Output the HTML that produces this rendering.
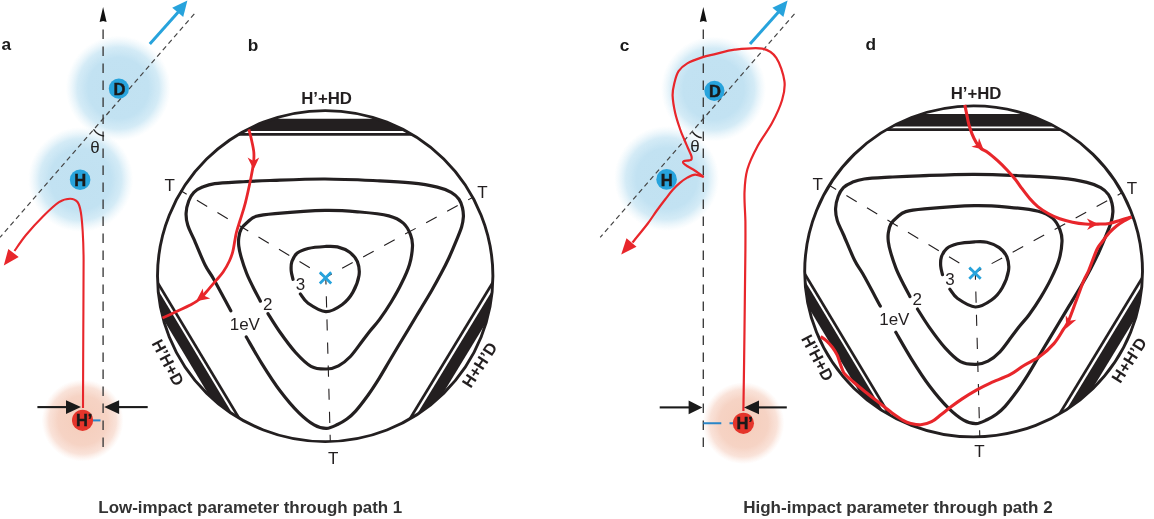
<!DOCTYPE html>
<html><head><meta charset="utf-8"><style>
html,body{margin:0;padding:0;background:#fff;width:1154px;height:519px;overflow:hidden;}
svg{display:block;will-change:transform;}
</style></head><body>
<svg width="1154" height="519" viewBox="0 0 1154 519">
<defs>
<radialGradient id="gb"><stop offset="0" stop-color="#c1e1f1"/><stop offset="0.58" stop-color="#c2e2f2"/><stop offset="0.78" stop-color="#c9e6f4" stop-opacity="0.8"/><stop offset="1" stop-color="#dceff8" stop-opacity="0"/></radialGradient>
<radialGradient id="gr"><stop offset="0" stop-color="#f5cdbb"/><stop offset="0.6" stop-color="#f6d3c4"/><stop offset="0.82" stop-color="#f8dbcf" stop-opacity="0.8"/><stop offset="1" stop-color="#fbe6dd" stop-opacity="0"/></radialGradient>
</defs>
<circle cx="118.3" cy="88.2" r="52.5" fill="url(#gb)"/>
<circle cx="80.7" cy="179.5" r="52.5" fill="url(#gb)"/>
<circle cx="82.6" cy="420.5" r="41" fill="url(#gr)"/>
<path d="M103.1 29.4 L103.1 447.5" stroke="#3a3a3a" stroke-width="1.35" stroke-dasharray="9.5 7.5" fill="none"/>
<path d="M103.1 7.0 L106.6 21.9 L103.1 21.1 L99.6 21.9 Z" fill="#111"/>
<path d="M194.3 13.9 L0.0 237.3" stroke="#444" stroke-width="1.2" stroke-dasharray="5 3.6" fill="none"/>
<path d="M149.8 43.9 L178.3 12" stroke="#27a3dc" stroke-width="3" fill="none"/>
<path d="M187.4 0.6 L183.2 16.9 L177.7 12.3 L172.2 7.7 Z" fill="#27a3dc"/>
<path d="M93.5 129.3 Q98 135.5 104.1 136" stroke="#222" stroke-width="1.4" fill="none"/>
<text x="95" y="153.4" font-size="17" text-anchor="middle" fill="#222" font-family="Liberation Sans, sans-serif">θ</text>
<path d="M83.0 408.0 C83.0 395.0 83.2 354.7 83.3 330.0 C83.4 305.3 83.7 276.7 83.6 260.0 C83.5 243.3 83.1 238.0 82.6 230.0 C82.1 222.0 81.6 216.7 80.8 212.0 C80.0 207.3 79.3 204.2 77.5 202.0 C75.7 199.8 73.3 198.7 70.2 198.7 C67.1 198.7 63.5 199.2 59.0 202.1 C54.5 205.0 48.9 210.5 43.4 216.0 C37.9 221.5 30.8 229.2 26.0 235.0 C21.2 240.8 16.4 248.3 14.5 251.0" fill="none" stroke="#e8262b" stroke-width="2.1"/>
<path d="M3.8 265.5 L8.3 249.0 L13.5 253.0 L18.7 257.0 Z" fill="#e8262b"/>
<circle cx="118.9" cy="88.7" r="10.1" fill="#27a3dc"/>
<text x="119.5" y="95.3" font-size="16.5" font-weight="bold" text-anchor="middle" fill="#1a1a1a" stroke="#1a1a1a" stroke-width="0.45" font-family="Liberation Sans, sans-serif">D</text>
<circle cx="80.1" cy="179.7" r="10.3" fill="#27a3dc"/>
<text x="80.3" y="186" font-size="16.5" font-weight="bold" text-anchor="middle" fill="#1a1a1a" stroke="#1a1a1a" stroke-width="0.45" font-family="Liberation Sans, sans-serif">H</text>
<circle cx="82.6" cy="420.3" r="10.6" fill="#e5352b"/>
<text x="84.2" y="425.9" font-size="16.5" font-weight="bold" text-anchor="middle" fill="#1a1a1a" stroke="#1a1a1a" stroke-width="0.45" font-family="Liberation Sans, sans-serif">H’</text>
<path d="M93 420.4 L100.5 420.4" stroke="#2a86c8" stroke-width="2"/>
<path d="M37.4 407.1 L68 407.1" stroke="#1a1a1a" stroke-width="2.1"/>
<path d="M81.0 407.1 L66.0 414.0 L66.0 407.1 L66.0 400.2 Z" fill="#1a1a1a"/>
<path d="M147.7 407.1 L117 407.1" stroke="#1a1a1a" stroke-width="2.1"/>
<path d="M104.2 407.1 L119.1 400.2 L119.1 407.1 L119.1 414.0 Z" fill="#1a1a1a"/>
<text x="1.5" y="50.3" font-size="17.3" font-weight="bold" fill="#1a1a1a" font-family="Liberation Sans, sans-serif">a</text>
<text x="247.8" y="51.3" font-size="17.3" font-weight="bold" fill="#1a1a1a" font-family="Liberation Sans, sans-serif">b</text>
<clipPath id="ccb"><ellipse cx="325.2" cy="276.1" rx="167.7" ry="165.5"/></clipPath>
<g clip-path="url(#ccb)">
<path d="M-75.0 131.1 L725.0 131.1 L725.0 118.8 L-75.0 118.8Z" fill="#231f20"/>
<path d="M-75.0 134.4 L725.0 134.4" stroke="#231f20" stroke-width="2.7" fill="none"/>
<path d="M402.2 696.3 L-9.8 10.5 L-18.9 16.0 L393.1 701.7Z" fill="#231f20"/>
<path d="M405.1 694.5 L-6.9 8.8" stroke="#231f20" stroke-width="2.7" fill="none"/>
<path d="M661.3 12.4 L245.7 695.9 L255.4 701.8 L671.1 18.3Z" fill="#231f20"/>
<path d="M658.2 10.5 L242.6 694.0" stroke="#231f20" stroke-width="2.7" fill="none"/>
</g>
<ellipse cx="325.2" cy="276.1" rx="167.7" ry="165.5" fill="none" stroke="#231f20" stroke-width="2.9"/>
<path d="M325.8 277.2 L180.5 190.5" stroke="#231f20" stroke-width="1.1" stroke-dasharray="12 11.9" stroke-dashoffset="5.3" fill="none"/>
<path d="M325.8 277.2 L472.5 197.5" stroke="#231f20" stroke-width="1.1" stroke-dasharray="12 11.9" stroke-dashoffset="5.3" fill="none"/>
<path d="M325.8 277.2 L330.3 442.0" stroke="#231f20" stroke-width="1.1" stroke-dasharray="11.2 11.9" stroke-dashoffset="4.0" fill="none"/>
<path d="M230.8 310.8 C227.9 305.5 217.9 286.6 213.6 279.0 C209.3 271.4 208.4 271.6 205.1 265.0 C201.8 258.4 196.8 245.8 193.9 239.2 C191.0 232.6 189.1 229.7 187.8 225.3 C186.5 221.0 185.9 217.2 186.1 213.1 C186.2 209.0 187.4 204.5 188.7 201.0 C190.0 197.5 191.6 194.6 193.9 192.3 C196.2 190.0 199.0 188.5 202.5 187.1 C206.0 185.7 208.4 184.6 214.7 183.7 C220.9 182.8 230.8 182.4 240.0 181.9 C249.2 181.4 255.8 181.0 270.0 180.5 C284.2 180.0 306.7 178.9 325.0 179.0 C343.3 179.1 365.7 180.2 380.0 180.8 C394.3 181.5 401.4 181.9 411.0 182.9 C420.6 183.9 430.6 185.5 437.3 187.1 C444.0 188.7 447.6 190.3 451.2 192.3 C454.8 194.3 457.1 196.7 459.0 199.3 C460.9 201.9 461.8 205.1 462.5 208.0 C463.2 210.9 463.5 213.4 463.4 216.6 C463.2 219.8 462.9 222.7 461.6 227.0 C460.3 231.3 457.6 237.5 455.5 242.6 C453.4 247.7 451.4 252.6 449.0 257.7 C446.6 262.8 444.2 267.6 441.3 273.1 C438.4 278.6 435.2 284.4 431.7 290.5 C428.2 296.6 424.0 303.4 420.1 309.8 C416.2 316.2 412.3 322.9 408.6 329.0 C404.9 335.1 401.3 341.0 398.0 346.5 C394.7 352.0 392.1 356.4 388.8 362.0 C385.5 367.6 381.7 374.3 378.2 379.9 C374.7 385.5 371.6 390.3 367.8 395.5 C364.0 400.7 359.1 407.2 355.6 411.1 C352.1 415.0 349.9 416.8 346.9 419.0 C343.9 421.2 340.9 422.9 337.5 424.5 C334.1 426.1 330.4 428.3 326.5 428.4 C322.6 428.5 318.7 427.5 314.1 424.9 C309.5 422.3 304.4 418.2 298.7 412.6 C293.0 407.0 286.4 399.2 280.2 391.0 C274.0 382.8 267.3 372.3 261.7 363.3 C256.1 354.3 248.9 341.4 246.3 337.0" fill="none" stroke="#231f20" stroke-width="3.2" stroke-linecap="round"/>
<path d="M260.4 301.2 C259.2 298.8 255.3 291.7 253.0 287.0 C250.7 282.3 248.4 277.9 246.5 273.0 C244.6 268.1 242.6 262.1 241.3 257.6 C240.0 253.2 239.2 249.6 238.8 246.3 C238.4 243.0 238.4 240.5 238.8 237.6 C239.2 234.7 239.8 231.4 241.3 228.8 C242.8 226.2 245.1 224.0 247.6 221.9 C250.1 219.8 251.7 217.7 256.3 216.3 C260.9 214.9 263.6 214.6 275.0 213.6 C286.4 212.6 310.8 210.7 325.0 210.4 C339.2 210.1 349.4 211.1 360.0 212.0 C370.6 212.9 381.6 214.1 388.8 215.9 C396.0 217.8 399.7 220.0 403.3 223.1 C406.9 226.2 409.0 230.8 410.5 234.6 C412.0 238.4 412.7 241.2 412.5 246.2 C412.3 251.2 411.3 258.4 409.5 264.5 C407.7 270.6 404.9 276.6 401.8 282.8 C398.8 289.1 394.9 295.9 391.2 302.0 C387.5 308.1 383.1 314.6 379.6 319.4 C376.1 324.2 372.9 327.3 370.0 331.0 C367.1 334.7 365.3 337.2 362.0 341.5 C358.7 345.8 354.3 352.4 350.4 356.5 C346.5 360.6 342.5 363.7 338.5 365.8 C334.5 367.9 331.1 368.9 326.5 369.0 C321.9 369.1 316.1 369.1 311.0 366.3 C305.9 363.6 300.9 358.3 295.6 352.5 C290.4 346.7 284.1 338.0 279.5 331.5 C274.9 325.0 269.9 316.7 268.0 313.7" fill="none" stroke="#231f20" stroke-width="3.2" stroke-linecap="round"/>
<path d="M293.0 279.3 C292.7 277.9 291.4 273.8 291.2 270.8 C291.0 267.9 290.9 264.6 291.9 261.6 C292.9 258.7 294.6 255.3 297.3 253.1 C300.0 250.9 303.5 249.6 308.1 248.5 C312.7 247.4 320.2 246.8 325.1 246.5 C330.0 246.2 333.3 245.9 337.4 246.9 C341.5 247.9 346.4 249.9 349.7 252.3 C353.0 254.8 355.8 257.7 357.4 261.6 C358.9 265.5 359.8 270.4 359.0 275.5 C358.2 280.6 355.6 287.5 352.8 292.4 C350.0 297.3 346.5 301.5 342.0 304.7 C337.5 307.9 331.4 311.9 325.8 311.7 C320.2 311.4 312.3 306.1 308.1 303.2 C303.9 300.2 301.7 295.5 300.4 294.0" fill="none" stroke="#231f20" stroke-width="3.2" stroke-linecap="round"/>
<text x="169.8" y="190.6" font-size="17" text-anchor="middle" fill="#231f20" font-family="Liberation Sans, sans-serif">T</text>
<text x="482.5" y="197.5" font-size="17" text-anchor="middle" fill="#231f20" font-family="Liberation Sans, sans-serif">T</text>
<text x="333.2" y="463.6" font-size="17" text-anchor="middle" fill="#231f20" font-family="Liberation Sans, sans-serif">T</text>
<text x="244.8" y="329.6" font-size="17" text-anchor="middle" fill="#231f20" font-family="Liberation Sans, sans-serif">1eV</text>
<text x="267.8" y="309.5" font-size="17" text-anchor="middle" fill="#231f20" font-family="Liberation Sans, sans-serif">2</text>
<text x="300.5" y="290.2" font-size="17" text-anchor="middle" fill="#231f20" font-family="Liberation Sans, sans-serif">3</text>
<text x="326.6" y="103.9" font-size="16.8" font-weight="bold" text-anchor="middle" fill="#231f20" font-family="Liberation Sans, sans-serif">H’+HD</text>
<text transform="translate(162.9,365.2) rotate(62)" font-size="16.5" font-weight="bold" text-anchor="middle" fill="#231f20" font-family="Liberation Sans, sans-serif">H’H+D</text>
<text transform="translate(484.3,368) rotate(-57)" font-size="16.5" font-weight="bold" text-anchor="middle" fill="#231f20" font-family="Liberation Sans, sans-serif">H+H’D</text>
<path d="M319.8 272.2 L331.2 283.4 M331.2 272.2 L319.8 283.4" stroke="#27a3dc" stroke-width="2.8" fill="none"/>
<path d="M248.9 129.4 C249.3 131.2 250.8 136.4 251.6 140.2 C252.4 144.0 253.5 148.4 253.8 152.0 C254.1 155.6 254.1 157.7 253.6 162.0 C253.1 166.3 252.3 171.2 250.9 178.0 C249.5 184.8 247.1 196.1 245.3 203.1 C243.5 210.1 241.7 215.2 240.2 220.0 C238.7 224.8 237.4 228.5 236.5 232.0 C235.6 235.5 235.4 237.5 234.8 240.8 C234.2 244.1 233.7 248.2 232.8 251.6 C231.9 255.0 231.0 257.6 229.4 261.0 C227.8 264.4 225.4 268.7 223.3 271.8 C221.2 274.9 219.1 277.0 216.6 279.9 C214.1 282.8 211.3 286.1 208.5 289.3 C205.7 292.5 203.1 296.1 200.0 298.8 C196.9 301.5 193.3 303.3 189.7 305.3 C186.0 307.3 182.6 308.7 178.1 310.8 C173.6 312.9 165.1 316.8 162.5 318.0" fill="none" stroke="#e8262b" stroke-width="2.8"/>
<path d="M253.6 169.5 L247.6 157.6 L253.5 161.0 L259.2 157.4 Z" fill="#e8262b"/>
<path d="M196.0 301.2 L202.8 288.5 L203.7 295.6 L210.2 298.5 Z" fill="#e8262b"/>
<circle cx="713.5" cy="89" r="52.5" fill="url(#gb)"/>
<circle cx="666.7" cy="178.5" r="52.5" fill="url(#gb)"/>
<circle cx="743.4" cy="423.2" r="41" fill="url(#gr)"/>
<path d="M703.3 29.4 L703.3 447.5" stroke="#3a3a3a" stroke-width="1.35" stroke-dasharray="9.5 7.5" fill="none"/>
<path d="M703.3 7.0 L706.8 21.9 L703.3 21.1 L699.8 21.9 Z" fill="#111"/>
<path d="M794.5 13.9 L600.2 237.3" stroke="#444" stroke-width="1.2" stroke-dasharray="5 3.6" fill="none"/>
<path d="M750.0 43.9 L778.5 12" stroke="#27a3dc" stroke-width="3" fill="none"/>
<path d="M787.6 0.6 L783.4 16.9 L777.9 12.3 L772.4 7.7 Z" fill="#27a3dc"/>
<path d="M692.5 132 Q696.5 137.2 701.7 137.7" stroke="#222" stroke-width="1.4" fill="none"/>
<text x="695" y="152.3" font-size="17" text-anchor="middle" fill="#222" font-family="Liberation Sans, sans-serif">θ</text>
<path d="M743.4 411.0 C743.6 397.5 744.2 356.8 744.5 330.0 C744.8 303.2 745.2 268.1 745.4 250.0 C745.5 231.9 745.5 230.9 745.4 221.3 C745.2 211.7 744.2 201.1 744.5 192.4 C744.8 183.7 745.2 177.0 747.4 169.3 C749.6 161.6 753.4 153.9 757.5 146.2 C761.6 138.5 767.9 130.8 772.0 123.1 C776.1 115.4 780.0 107.0 782.1 100.0 C784.2 93.0 785.4 88.0 784.4 81.0 C783.4 74.0 780.0 63.2 776.3 57.8 C772.6 52.4 769.3 50.0 762.4 48.6 C755.5 47.2 742.4 48.8 734.7 49.7 C727.0 50.6 721.5 52.6 716.0 53.9 C710.5 55.2 706.8 55.8 702.0 57.4 C697.2 59.0 691.2 61.1 687.3 63.4 C683.4 65.7 680.8 67.9 678.6 71.2 C676.4 74.5 675.3 79.4 674.3 83.4 C673.3 87.5 672.5 90.6 672.6 95.5 C672.8 100.4 673.9 107.2 675.2 112.9 C676.5 118.7 678.9 125.5 680.4 130.0 C681.9 134.5 683.3 137.1 684.5 140.0 C685.7 142.9 686.7 145.1 687.8 147.7 C688.9 150.3 690.6 153.5 691.2 155.4 C691.8 157.3 691.8 158.5 691.5 159.3 C691.2 160.1 690.5 160.1 689.3 160.4 C688.0 160.7 685.0 160.5 684.0 160.9 C683.0 161.3 682.8 162.2 683.3 163.0 C683.8 163.8 685.0 164.7 687.0 166.0 C689.0 167.3 692.3 169.0 695.1 170.8 C697.9 172.6 702.3 176.0 703.7 177.0" fill="none" stroke="#e8262b" stroke-width="2.2" stroke-linejoin="round"/>
<path d="M703.7 177.0 C702.3 176.6 697.8 174.6 695.1 174.7 C692.4 174.8 689.9 176.2 687.3 177.6 C684.7 179.0 682.0 181.1 679.6 183.1 C677.2 185.1 675.1 187.2 672.8 189.8 C670.4 192.5 668.2 195.5 665.5 199.0 C662.8 202.5 659.5 206.9 656.5 211.0 C653.5 215.1 651.8 218.2 647.8 223.5 C643.8 228.8 635.0 239.3 632.5 242.5" fill="none" stroke="#e8262b" stroke-width="2.2"/>
<path d="M621.2 254.5 L626.5 238.2 L631.5 242.5 L636.5 246.8 Z" fill="#e8262b"/>
<circle cx="714.4" cy="90.8" r="10.1" fill="#27a3dc"/>
<text x="715" y="97.4" font-size="16.5" font-weight="bold" text-anchor="middle" fill="#1a1a1a" stroke="#1a1a1a" stroke-width="0.45" font-family="Liberation Sans, sans-serif">D</text>
<circle cx="666.6" cy="179.4" r="10.3" fill="#27a3dc"/>
<text x="666.8" y="185.7" font-size="16.5" font-weight="bold" text-anchor="middle" fill="#1a1a1a" stroke="#1a1a1a" stroke-width="0.45" font-family="Liberation Sans, sans-serif">H</text>
<circle cx="743.4" cy="423.3" r="10.6" fill="#e5352b"/>
<text x="744.7" y="429" font-size="16.5" font-weight="bold" text-anchor="middle" fill="#1a1a1a" stroke="#1a1a1a" stroke-width="0.45" font-family="Liberation Sans, sans-serif">H’</text>
<path d="M703.3 423.3 L721.3 423.3 M729.5 423.3 L733 423.3" stroke="#2a86c8" stroke-width="2"/>
<path d="M659.7 407.4 L690 407.4" stroke="#1a1a1a" stroke-width="2.1"/>
<path d="M702.4 407.4 L688.6 414.3 L688.6 407.4 L688.6 400.5 Z" fill="#1a1a1a"/>
<path d="M786.8 407.4 L757 407.4" stroke="#1a1a1a" stroke-width="2.1"/>
<path d="M744.0 407.4 L759.0 400.5 L759.0 407.4 L759.0 414.3 Z" fill="#1a1a1a"/>
<text x="619.8" y="51" font-size="17.3" font-weight="bold" fill="#1a1a1a" font-family="Liberation Sans, sans-serif">c</text>
<text x="865.6" y="50.3" font-size="17.3" font-weight="bold" fill="#1a1a1a" font-family="Liberation Sans, sans-serif">d</text>
<g transform="translate(649.5,-4.7)">
<clipPath id="ccd"><ellipse cx="324.1" cy="276.1" rx="168.9" ry="165.5"/></clipPath>
<g clip-path="url(#ccd)">
<path d="M-75.0 131.1 L725.0 131.1 L725.0 118.8 L-75.0 118.8Z" fill="#231f20"/>
<path d="M-75.0 134.4 L725.0 134.4" stroke="#231f20" stroke-width="2.7" fill="none"/>
<path d="M402.2 696.3 L-9.8 10.5 L-18.9 16.0 L393.1 701.7Z" fill="#231f20"/>
<path d="M405.1 694.5 L-6.9 8.8" stroke="#231f20" stroke-width="2.7" fill="none"/>
<path d="M661.3 12.4 L245.7 695.9 L255.4 701.8 L671.1 18.3Z" fill="#231f20"/>
<path d="M658.2 10.5 L242.6 694.0" stroke="#231f20" stroke-width="2.7" fill="none"/>
</g>
<ellipse cx="324.1" cy="276.1" rx="168.9" ry="165.5" fill="none" stroke="#231f20" stroke-width="2.9"/>
<path d="M325.8 277.2 L180.5 190.5" stroke="#231f20" stroke-width="1.1" stroke-dasharray="12 11.9" stroke-dashoffset="5.3" fill="none"/>
<path d="M325.8 277.2 L472.5 197.5" stroke="#231f20" stroke-width="1.1" stroke-dasharray="12 11.9" stroke-dashoffset="5.3" fill="none"/>
<path d="M325.8 277.2 L330.3 442.0" stroke="#231f20" stroke-width="1.1" stroke-dasharray="11.2 11.9" stroke-dashoffset="4.0" fill="none"/>
<path d="M230.8 310.8 C227.9 305.5 217.9 286.6 213.6 279.0 C209.3 271.4 208.4 271.6 205.1 265.0 C201.8 258.4 196.8 245.8 193.9 239.2 C191.0 232.6 189.1 229.7 187.8 225.3 C186.5 221.0 185.9 217.2 186.1 213.1 C186.2 209.0 187.4 204.5 188.7 201.0 C190.0 197.5 191.6 194.6 193.9 192.3 C196.2 190.0 199.0 188.5 202.5 187.1 C206.0 185.7 208.4 184.6 214.7 183.7 C220.9 182.8 230.8 182.4 240.0 181.9 C249.2 181.4 255.8 181.0 270.0 180.5 C284.2 180.0 306.7 178.9 325.0 179.0 C343.3 179.1 365.7 180.2 380.0 180.8 C394.3 181.5 401.4 181.9 411.0 182.9 C420.6 183.9 430.6 185.5 437.3 187.1 C444.0 188.7 447.6 190.3 451.2 192.3 C454.8 194.3 457.1 196.7 459.0 199.3 C460.9 201.9 461.8 205.1 462.5 208.0 C463.2 210.9 463.5 213.4 463.4 216.6 C463.2 219.8 462.9 222.7 461.6 227.0 C460.3 231.3 457.6 237.5 455.5 242.6 C453.4 247.7 451.4 252.6 449.0 257.7 C446.6 262.8 444.2 267.6 441.3 273.1 C438.4 278.6 435.2 284.4 431.7 290.5 C428.2 296.6 424.0 303.4 420.1 309.8 C416.2 316.2 412.3 322.9 408.6 329.0 C404.9 335.1 401.3 341.0 398.0 346.5 C394.7 352.0 392.1 356.4 388.8 362.0 C385.5 367.6 381.7 374.3 378.2 379.9 C374.7 385.5 371.6 390.3 367.8 395.5 C364.0 400.7 359.1 407.2 355.6 411.1 C352.1 415.0 349.9 416.8 346.9 419.0 C343.9 421.2 340.9 422.9 337.5 424.5 C334.1 426.1 330.4 428.3 326.5 428.4 C322.6 428.5 318.7 427.5 314.1 424.9 C309.5 422.3 304.4 418.2 298.7 412.6 C293.0 407.0 286.4 399.2 280.2 391.0 C274.0 382.8 267.3 372.3 261.7 363.3 C256.1 354.3 248.9 341.4 246.3 337.0" fill="none" stroke="#231f20" stroke-width="3.2" stroke-linecap="round"/>
<path d="M260.4 301.2 C259.2 298.8 255.3 291.7 253.0 287.0 C250.7 282.3 248.4 277.9 246.5 273.0 C244.6 268.1 242.6 262.1 241.3 257.6 C240.0 253.2 239.2 249.6 238.8 246.3 C238.4 243.0 238.4 240.5 238.8 237.6 C239.2 234.7 239.8 231.4 241.3 228.8 C242.8 226.2 245.1 224.0 247.6 221.9 C250.1 219.8 251.7 217.7 256.3 216.3 C260.9 214.9 263.6 214.6 275.0 213.6 C286.4 212.6 310.8 210.7 325.0 210.4 C339.2 210.1 349.4 211.1 360.0 212.0 C370.6 212.9 381.6 214.1 388.8 215.9 C396.0 217.8 399.7 220.0 403.3 223.1 C406.9 226.2 409.0 230.8 410.5 234.6 C412.0 238.4 412.7 241.2 412.5 246.2 C412.3 251.2 411.3 258.4 409.5 264.5 C407.7 270.6 404.9 276.6 401.8 282.8 C398.8 289.1 394.9 295.9 391.2 302.0 C387.5 308.1 383.1 314.6 379.6 319.4 C376.1 324.2 372.9 327.3 370.0 331.0 C367.1 334.7 365.3 337.2 362.0 341.5 C358.7 345.8 354.3 352.4 350.4 356.5 C346.5 360.6 342.5 363.7 338.5 365.8 C334.5 367.9 331.1 368.9 326.5 369.0 C321.9 369.1 316.1 369.1 311.0 366.3 C305.9 363.6 300.9 358.3 295.6 352.5 C290.4 346.7 284.1 338.0 279.5 331.5 C274.9 325.0 269.9 316.7 268.0 313.7" fill="none" stroke="#231f20" stroke-width="3.2" stroke-linecap="round"/>
<path d="M293.0 279.3 C292.7 277.9 291.4 273.8 291.2 270.8 C291.0 267.9 290.9 264.6 291.9 261.6 C292.9 258.7 294.6 255.3 297.3 253.1 C300.0 250.9 303.5 249.6 308.1 248.5 C312.7 247.4 320.2 246.8 325.1 246.5 C330.0 246.2 333.3 245.9 337.4 246.9 C341.5 247.9 346.4 249.9 349.7 252.3 C353.0 254.8 355.8 257.7 357.4 261.6 C358.9 265.5 359.8 270.4 359.0 275.5 C358.2 280.6 355.6 287.5 352.8 292.4 C350.0 297.3 346.5 301.5 342.0 304.7 C337.5 307.9 331.4 311.9 325.8 311.7 C320.2 311.4 312.3 306.1 308.1 303.2 C303.9 300.2 301.7 295.5 300.4 294.0" fill="none" stroke="#231f20" stroke-width="3.2" stroke-linecap="round"/>
<text x="168.2" y="194.4" font-size="17" text-anchor="middle" fill="#231f20" font-family="Liberation Sans, sans-serif">T</text>
<text x="482.5" y="198.7" font-size="17" text-anchor="middle" fill="#231f20" font-family="Liberation Sans, sans-serif">T</text>
<text x="329.9" y="461.9" font-size="17" text-anchor="middle" fill="#231f20" font-family="Liberation Sans, sans-serif">T</text>
<text x="244.8" y="329.6" font-size="17" text-anchor="middle" fill="#231f20" font-family="Liberation Sans, sans-serif">1eV</text>
<text x="267.8" y="309.5" font-size="17" text-anchor="middle" fill="#231f20" font-family="Liberation Sans, sans-serif">2</text>
<text x="300.5" y="290.2" font-size="17" text-anchor="middle" fill="#231f20" font-family="Liberation Sans, sans-serif">3</text>
<text x="326.6" y="103.9" font-size="16.8" font-weight="bold" text-anchor="middle" fill="#231f20" font-family="Liberation Sans, sans-serif">H’+HD</text>
<text transform="translate(162.9,365.2) rotate(62)" font-size="16.5" font-weight="bold" text-anchor="middle" fill="#231f20" font-family="Liberation Sans, sans-serif">H’H+D</text>
<text transform="translate(484.3,368) rotate(-57)" font-size="16.5" font-weight="bold" text-anchor="middle" fill="#231f20" font-family="Liberation Sans, sans-serif">H+H’D</text>
<path d="M319.8 272.2 L331.2 283.4 M331.2 272.2 L319.8 283.4" stroke="#27a3dc" stroke-width="2.8" fill="none"/>
</g>
<path d="M964.8 104.9 C965.1 106.3 965.8 109.8 966.5 113.1 C967.2 116.4 967.9 121.0 968.9 124.6 C969.9 128.2 971.0 131.4 972.2 134.4 C973.4 137.4 974.8 140.2 976.3 142.6 C977.8 144.9 979.1 146.8 981.0 148.5 C982.9 150.2 985.0 150.5 987.8 152.5 C990.6 154.5 994.3 157.7 997.6 160.7 C1000.9 163.7 1004.5 167.3 1007.5 170.5 C1010.5 173.7 1013.4 177.1 1015.8 180.0 C1018.1 182.9 1019.3 185.0 1021.6 188.1 C1023.9 191.2 1027.0 195.4 1029.7 198.5 C1032.4 201.6 1034.7 204.1 1037.8 206.6 C1040.9 209.1 1044.5 211.5 1048.2 213.5 C1051.9 215.5 1055.7 217.4 1059.7 218.8 C1063.8 220.2 1068.2 221.3 1072.5 222.2 C1076.8 223.1 1081.0 223.7 1085.2 224.0 C1089.5 224.3 1094.0 224.2 1098.0 224.1 C1102.0 224.0 1105.5 224.1 1109.3 223.4 C1113.0 222.8 1116.8 221.3 1120.5 220.2 C1124.2 219.1 1129.6 217.4 1131.4 216.9" fill="none" stroke="#e8262b" stroke-width="3.1" stroke-linejoin="round"/>
<path d="M1131.4 216.9 C1130.2 217.6 1126.5 219.5 1124.0 221.0 C1121.5 222.5 1119.0 224.0 1116.5 226.0 C1114.0 228.0 1111.7 230.1 1109.3 232.8 C1106.9 235.5 1104.1 239.1 1102.0 242.0 C1099.9 244.9 1098.9 245.2 1096.7 250.0 C1094.5 254.8 1090.8 265.5 1088.7 270.5 C1086.6 275.5 1086.0 275.3 1084.0 280.0 C1082.0 284.7 1079.6 291.7 1077.0 298.5 C1074.4 305.3 1070.8 315.8 1068.5 321.0 C1066.2 326.2 1065.6 325.9 1063.2 329.7 C1060.8 333.5 1057.8 339.2 1053.9 343.6 C1050.0 348.0 1045.0 352.7 1040.0 356.3 C1035.0 359.9 1028.9 362.4 1023.9 365.5 C1018.9 368.6 1015.6 371.8 1010.0 374.7 C1004.4 377.6 995.9 380.5 990.3 383.1 C984.7 385.7 981.0 387.5 976.4 390.1 C971.8 392.7 966.6 395.9 962.5 398.6 C958.4 401.3 955.3 403.6 951.7 406.3 C948.1 409.0 944.2 412.2 940.9 414.8 C937.5 417.4 935.0 420.0 931.6 421.7 C928.2 423.4 924.4 424.6 920.8 424.8 C917.2 425.1 912.9 423.9 910.0 423.2 C907.1 422.5 906.6 422.3 903.6 420.6 C900.6 418.9 896.3 415.9 892.1 412.9 C887.9 409.8 883.1 405.8 878.6 402.3 C874.1 398.8 869.3 395.1 865.1 391.7 C860.9 388.3 856.9 384.9 853.5 382.0 C850.1 379.1 846.7 376.4 844.8 374.1 C842.9 371.8 842.8 370.5 841.9 368.4 C841.0 366.3 840.3 363.9 839.5 361.6 C838.7 359.4 838.3 357.3 837.1 354.9 C835.9 352.5 834.1 349.5 832.3 347.2 C830.5 344.9 828.4 342.7 826.5 340.9 C824.6 339.1 821.7 337.3 820.7 336.6" fill="none" stroke="#e8262b" stroke-width="3.1" stroke-linejoin="round"/>
<path d="M983.5 149.5 L971.4 146.7 L977.8 144.6 L979.0 137.9 Z" fill="#e8262b"/>
<path d="M1098.3 224.1 L1087.1 230.0 L1090.5 224.2 L1086.9 218.4 Z" fill="#e8262b"/>
<path d="M1066.2 328.5 L1065.7 315.2 L1069.6 320.7 L1076.3 319.8 Z" fill="#e8262b"/>
<text x="98.3" y="512.9" font-size="16.95" font-weight="bold" fill="#333" font-family="Liberation Sans, sans-serif">Low-impact parameter through path 1</text>
<text x="743.2" y="512.9" font-size="17.05" font-weight="bold" fill="#333" font-family="Liberation Sans, sans-serif">High-impact parameter through path 2</text>
</svg>
</body></html>
